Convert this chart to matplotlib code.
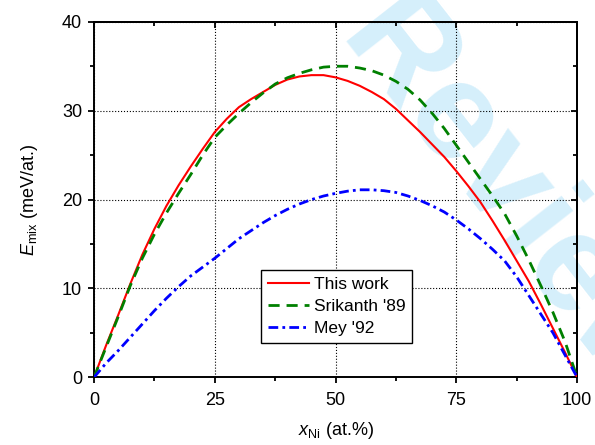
import matplotlib
matplotlib.use("Agg")
import matplotlib.pyplot as plt
from matplotlib.ticker import MultipleLocator

plt.rcParams['font.family'] = ['Liberation Sans', 'DejaVu Sans']
plt.rcParams['mathtext.fontset'] = 'custom'
plt.rcParams['mathtext.rm'] = 'Liberation Sans'
plt.rcParams['mathtext.it'] = 'Liberation Sans:italic'

x_ni = [0, 2.5, 5, 7.5, 10, 12.5, 15, 17.5, 20, 22.5, 25, 27.5, 30, 32.5, 35, 37.5, 40, 42.5, 45, 47.5,
        50, 52.5, 55, 57.5, 60, 62.5, 65, 67.5, 70, 72.5, 75, 77.5, 80, 82.5, 85, 87.5, 90, 92.5, 95, 97.5, 100]
e_this = [0, 3.6, 7.0, 10.5, 13.8, 16.7, 19.3, 21.6, 23.7, 25.7, 27.6, 29.1, 30.4, 31.3, 32.1, 32.9, 33.5, 33.85, 34.0, 34.0,
          33.75, 33.35, 32.8, 32.1, 31.3, 30.2, 28.9, 27.6, 26.2, 24.8, 23.2, 21.5, 19.7, 17.6, 15.4, 13.1, 10.8, 8.2, 5.5, 2.8, 0]
e_sri = [0, 3.4, 6.8, 10.3, 13.4, 16.1, 18.5, 20.7, 22.8, 25.0, 27.0, 28.4, 29.7, 30.9, 32.0, 33.0, 33.7, 34.2, 34.6, 34.9,
         35.0, 35.0, 34.8, 34.5, 34.0, 33.3, 32.4, 31.2, 29.7, 28.0, 26.1, 24.2, 22.3, 20.4, 18.4, 15.9, 13.2, 10.3, 7.3, 4.0, 0]
e_mey = [0, 1.6, 3.0, 4.5, 6.0, 7.5, 8.9, 10.2, 11.4, 12.4, 13.4, 14.5, 15.6, 16.5, 17.4, 18.2, 18.9, 19.5, 20.0, 20.4,
         20.7, 20.95, 21.1, 21.1, 21.0, 20.8, 20.4, 19.9, 19.3, 18.6, 17.7, 16.7, 15.6, 14.4, 13.1, 11.3, 9.2, 7.1, 5.0, 2.5, 0]

labels = ["This work", "Srikanth '89", "Mey '92"]
x_ticks = [0, 25, 50, 75, 100]
y_ticks = [0, 10, 20, 30, 40]

fig = plt.figure(figsize=(5.95, 4.45), dpi=100, facecolor='white')
ax = fig.add_axes([0.158, 0.152, 0.812, 0.799])
ax.set_facecolor('none')

fig.text(0.566, 0.910, "Review", fontsize=100, fontweight='bold', color='#d5effb',
         rotation=-52, rotation_mode='anchor', ha='left', va='baseline', zorder=-5)

ax.plot(x_ni, e_this, color='#ff0000', lw=1.5, ls='-', label=labels[0], zorder=3)
ax.plot(x_ni, e_sri, color='#008000', lw=2.0, ls=(0, (4, 2.5)), label=labels[1], zorder=3)
ax.plot(x_ni, e_mey, color='#0000ff', lw=2.0, ls=(0, (3.5, 1.5, 1, 1.5)), label=labels[2], zorder=3)

ax.set_xlim(0, 100)
ax.set_ylim(0, 40)
ax.set_xticks(x_ticks)
ax.set_yticks(y_ticks)
ax.xaxis.set_minor_locator(MultipleLocator(12.5))
ax.yaxis.set_minor_locator(MultipleLocator(5))
ax.tick_params(which='both', direction='out', labelsize=13, width=1.3)
ax.tick_params(which='major', length=4.5)
ax.tick_params(which='minor', length=3)
ax.tick_params(axis='x', which='major', pad=6)
ax.tick_params(axis='y', which='major', pad=4)

top = ax.secondary_xaxis('top')
top.set_xticks(x_ticks)
top.xaxis.set_minor_locator(MultipleLocator(12.5))
top.tick_params(which='both', direction='in', labeltop=False, width=1.3)
top.tick_params(which='major', length=4.5)
top.tick_params(which='minor', length=3)
right = ax.secondary_yaxis('right')
right.set_yticks(y_ticks)
right.yaxis.set_minor_locator(MultipleLocator(5))
right.tick_params(which='both', direction='in', labelright=False, width=1.3)
right.tick_params(which='major', length=4.5)
right.tick_params(which='minor', length=3)

for s in list(ax.spines.values()) + list(top.spines.values()) + list(right.spines.values()):
    s.set_linewidth(1.4)
ax.grid(True, which='major', color='black', ls=':', lw=0.8)

ax.set_xlabel(r'$x_{\mathrm{Ni}}$ (at.%)', fontsize=13, labelpad=8)
ax.set_ylabel(r'$E_{\mathrm{mix}}$ (meV/at.)', fontsize=13, labelpad=16)

leg = ax.legend(loc='upper left', bbox_to_anchor=(0.345, 0.302), borderaxespad=0,
                fontsize=12.5, fancybox=False, framealpha=1, edgecolor='black',
                handlelength=2.4, handletextpad=0.25, labelspacing=0.4, borderpad=0.4)
leg.get_frame().set_linewidth(1.0)

fig.savefig('out.png', dpi=100, facecolor='white')
